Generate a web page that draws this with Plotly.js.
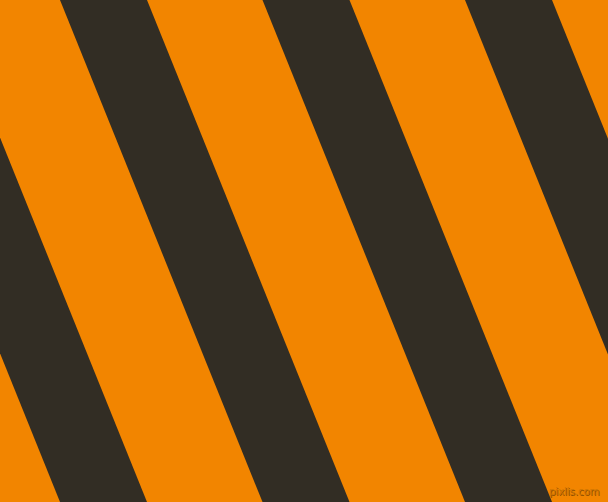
<!DOCTYPE html>
<html>
<head>
<meta charset="utf-8">
<script src="https://cdn.plot.ly/plotly-3.0.1.min.js"></script>
<style>
  html, body { margin: 0; padding: 0; background: #f28500; overflow: hidden; }
  #stripes { width: 608px; height: 502px; }
</style>
</head>
<body>
<div id="stripes"></div>
<script>
// Diagonal stripe pattern: dark bands on an orange ground
var bandStartTop = [-142.5, 60, 262.5, 465];   // left edge of each dark band at y = 0
var bandEndTop = [-55.5, 147, 349.5, 552];     // right edge of each dark band at y = 0
var bandShift = [202.5, 202.5, 202.5, 202.5];  // horizontal drift from top to bottom
var imgWidth = 608;
var imgHeight = 502;

var orange = '#f28500';
var dark = '#322d24';

document.addEventListener('DOMContentLoaded', function() {
  var traces = bandStartTop.map(function(s, i) {
    var e = bandEndTop[i];
    var d = bandShift[i];
    return {
      x: [s, e, e + d, s + d, s],
      y: [0, 0, imgHeight, imgHeight, 0],
      mode: 'lines',
      fill: 'toself',
      fillcolor: dark,
      line: { width: 0, color: dark },
      hoverinfo: 'skip',
      showlegend: false
    };
  });

  var layout = {
    width: imgWidth,
    height: imgHeight,
    margin: { l: 0, r: 0, t: 0, b: 0 },
    paper_bgcolor: orange,
    plot_bgcolor: orange,
    xaxis: { range: [0, imgWidth], visible: false, fixedrange: true },
    yaxis: { range: [imgHeight, 0], visible: false, fixedrange: true },
    showlegend: false,
    annotations: [{
      text: 'pixlis.com',
      xref: 'paper', yref: 'paper',
      x: 0.988, y: 0.006,
      xanchor: 'right', yanchor: 'bottom',
      showarrow: false,
      font: { family: 'DejaVu Sans', size: 10, color: '#d07600', shadow: '1px 1px 0px #8f4f00' }
    }]
  };

  Plotly.newPlot('stripes', traces, layout, { staticPlot: true, displayModeBar: false });
});
</script>
</body>
</html>
